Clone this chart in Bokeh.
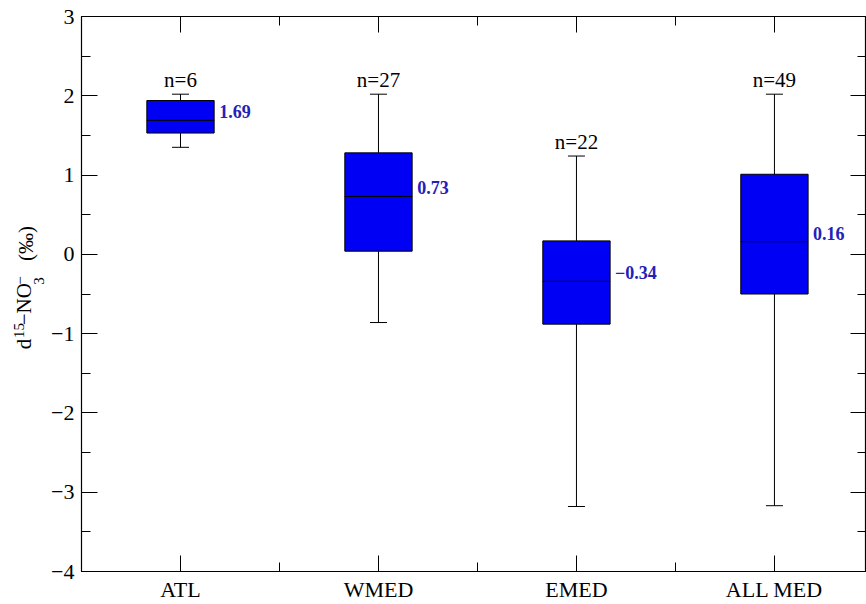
import math
from bokeh.plotting import figure
from bokeh.layouts import row
from bokeh.models import LinearAxis, FixedTicker, Range1d, ColumnDataSource
from bokeh.embed import file_html
from bokeh.resources import INLINE
from bokeh.core.properties import value

# ---- data ----
categories = ["ATL", "WMED", "EMED", "ALL MED"]
n_counts = [6, 27, 22, 49]
whisker_low = [1.35, -0.86, -3.18, -3.17]
q1 = [1.53, 0.04, -0.88, -0.50]
medians = [1.69, 0.73, -0.34, 0.16]
q3 = [1.94, 1.28, 0.17, 1.01]
whisker_high = [2.02, 2.02, 1.24, 2.02]
y_ticks = [-4, -3, -2, -1, 0, 1, 2, 3]

xpos = [i + 1 for i in range(len(categories))]
box_w = 0.34
cap_w = 0.086

src = ColumnDataSource(dict(
    x=xpos,
    xl=[x - box_w / 2 for x in xpos],
    xr=[x + box_w / 2 for x in xpos],
    cl=[x - cap_w / 2 for x in xpos],
    cr=[x + cap_w / 2 for x in xpos],
    lo=whisker_low, q1=q1, med=medians, q3=q3, hi=whisker_high,
    ntxt=[f"n={n}" for n in n_counts],
    mtxt=[f"{m:.2f}".replace("-", "\u2212") for m in medians],
))

FONT = "Liberation Serif"
W, H = 866, 604
TITLE_W = 48
FRAME_LEFT = 81
FRAME_BOTTOM = 571

# ---- narrow panel holding the rotated y-axis title ----
t = figure(width=TITLE_W, height=H, output_backend="svg", toolbar_location=None,
           x_range=Range1d(0, TITLE_W), y_range=Range1d(0, H),
           x_axis_location=None, y_axis_location=None,
           min_border=0, min_border_left=0, min_border_right=0,
           min_border_top=0, min_border_bottom=0)
t.grid.visible = False
t.outline_line_color = None
t.background_fill_color = "white"
t.border_fill_color = "white"

# text, x of glyph bottom, page y where the piece starts, font size (px)
title_parts = [
    ("d", 35, 362, 21),
    ("15", 23, 350, 15),
    ("\u2212NO", 35, 336, 21),
    ("3", 43, 292, 15),
    ("\u2212", 24, 292, 15),
    ("(\u2030)", 37, 266, 21),
]
for txt, bx, sy, fs in title_parts:
    t.text(x=[bx], y=[H - sy], text=[txt], angle=math.pi / 2, text_align="left",
           text_baseline="bottom", text_font=value(FONT), text_font_size=f"{fs}px",
           text_color="black")

# ---- main plot ----
p = figure(width=W - TITLE_W, height=H, output_backend="svg", toolbar_location=None,
           x_range=Range1d(0.5, 4.465), y_range=Range1d(-4, 3),
           x_axis_location=None, y_axis_location=None,
           min_border_left=FRAME_LEFT - TITLE_W, min_border_right=0, min_border_top=16,
           min_border_bottom=H - FRAME_BOTTOM)
p.grid.visible = False
p.outline_line_color = "black"
p.outline_line_width = 1.2
p.background_fill_color = "white"
p.border_fill_color = "white"

minor_y = [v + 0.5 for v in y_ticks[:-1]]
minor_x = [x + 0.5 for x in xpos[:-1]]

def style(ax, labels=True):
    ax.major_tick_in = 16
    ax.major_tick_out = 0
    ax.minor_tick_in = 9
    ax.minor_tick_out = 0
    ax.axis_line_color = "black"
    ax.major_tick_line_color = "black"
    ax.minor_tick_line_color = "black"
    ax.major_label_text_font = FONT
    ax.major_label_text_color = "black"
    if not labels:
        ax.major_label_text_font_size = "0px"
        ax.major_label_standoff = 0

yl = LinearAxis(ticker=FixedTicker(ticks=y_ticks, minor_ticks=minor_y))
style(yl)
yl.major_label_text_font_size = "22px"
yl.major_label_standoff = 7
yl.major_label_overrides = {v: str(v).replace("-", "\u2212") for v in y_ticks}
p.add_layout(yl, "left")

yr = LinearAxis(ticker=FixedTicker(ticks=y_ticks, minor_ticks=minor_y))
style(yr, labels=False)
yr.major_label_overrides = {v: "" for v in y_ticks}
p.add_layout(yr, "right")

xb = LinearAxis(ticker=FixedTicker(ticks=xpos, minor_ticks=minor_x))
style(xb)
xb.major_label_text_font_size = "22px"
xb.major_label_standoff = 5
xb.major_label_overrides = {x: c for x, c in zip(xpos, categories)}
p.add_layout(xb, "below")

xt = LinearAxis(ticker=FixedTicker(ticks=xpos, minor_ticks=minor_x))
style(xt, labels=False)
xt.major_label_overrides = {x: "" for x in xpos}
p.add_layout(xt, "above")

# whiskers
p.segment(x0="x", y0="q3", x1="x", y1="hi", source=src, line_color="black", line_width=1)
p.segment(x0="x", y0="lo", x1="x", y1="q1", source=src, line_color="black", line_width=1)
p.segment(x0="cl", y0="hi", x1="cr", y1="hi", source=src, line_color="black", line_width=1)
p.segment(x0="cl", y0="lo", x1="cr", y1="lo", source=src, line_color="black", line_width=1)
# boxes
p.quad(left="xl", right="xr", bottom="q1", top="q3", source=src,
       fill_color="#0000f5", line_color="black", line_width=1)
p.segment(x0="xl", y0="med", x1="xr", y1="med", source=src, line_color="black", line_width=1)

# labels
p.text(x="x", y="hi", text="ntxt", source=src, text_align="center", text_baseline="bottom",
       y_offset=-2, text_font=value(FONT), text_font_size="21px", text_color="black")
p.text(x="xr", y="med", text="mtxt", source=src, text_align="left", text_baseline="bottom",
       x_offset=5, y_offset=-2, text_font=value(FONT), text_font_size="18px",
       text_font_style="bold", text_color="#2222b8")

layout = row(t, p, spacing=0)
open("out.html", "w").write(file_html(layout, INLINE))
